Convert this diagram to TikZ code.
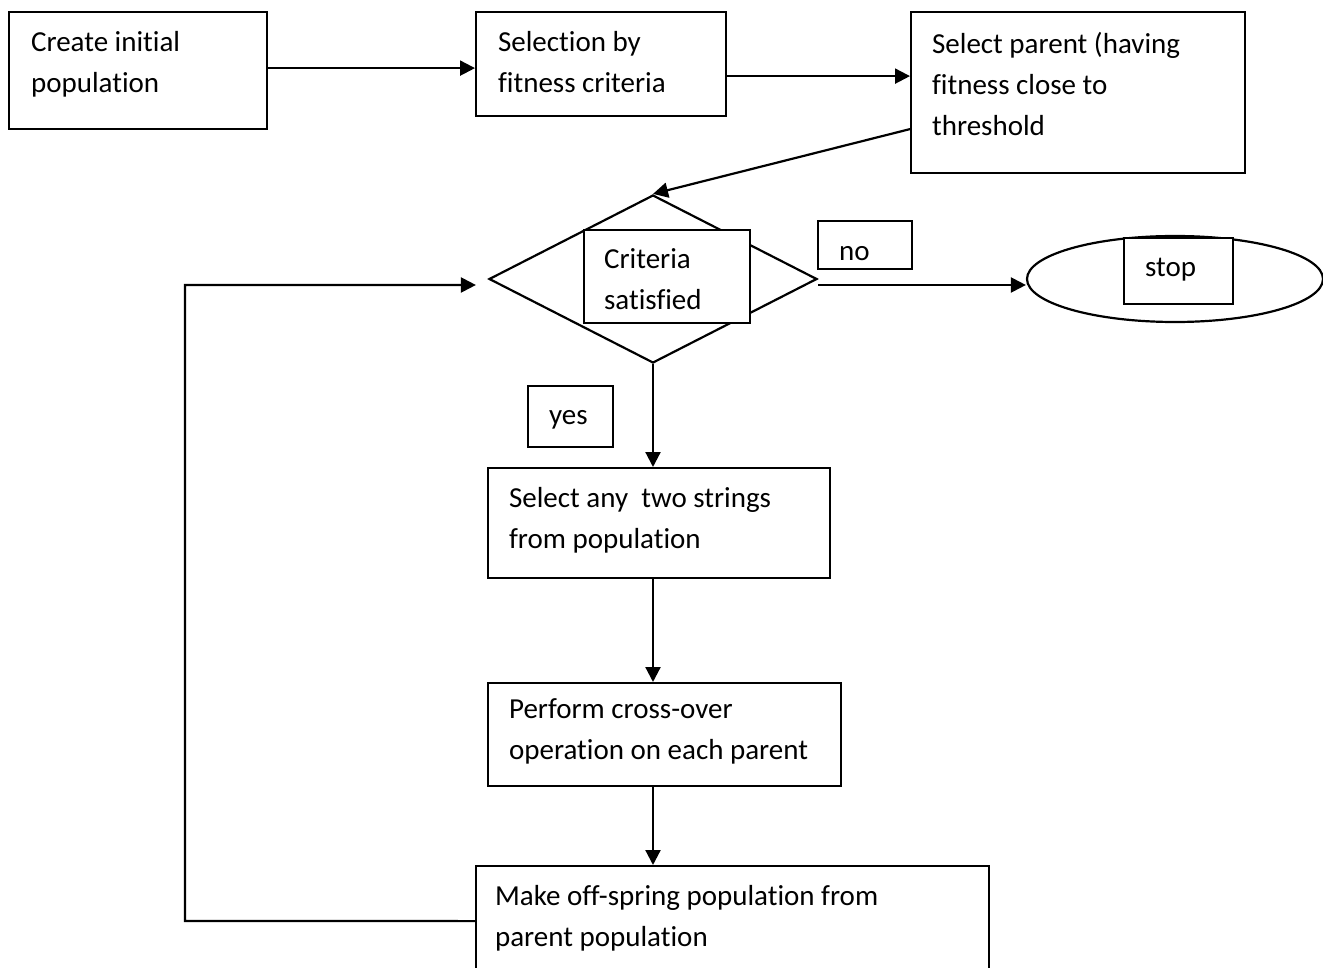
\documentclass[tikz,border=0pt]{standalone}
\usepackage{fontspec}
\setmainfont{Carlito}[Ligatures=NoCommon]
\usetikzlibrary{shapes.geometric,arrows.meta}
\newcommand\mkbox[8]{%
  \node[box, minimum width={#4-#2}, minimum height={#5-#3}] (#1) at (#2,#3) {};
  \node[txt] (#1-t) at (#6,#7-25) {\rule{0pt}{25pt}#8};
}
\begin{document}
\begin{tikzpicture}[x=1pt,y=-1pt,line width=2.2pt,
  box/.style={draw, fill=white, rectangle, inner sep=0pt, anchor=north west},
  txt/.style={anchor=north west, inner sep=0pt, align=left, font=\fontsize{29}{41}\selectfont},
  arr/.style={-{Triangle[length=15pt,width=15pt]}}]
\useasboundingbox (0,0) rectangle (1323,968);
% shapes under label boxes
\node[draw, diamond, minimum width=328pt, minimum height=168pt, inner sep=0pt] (dia) at (653,279) {};
\node[draw, ellipse, minimum width=296pt, minimum height=86pt, inner sep=0pt] (stopell) at (1175,279) {};
% boxes
\mkbox{box1}{8}{11}{266}{128}{30}{50}{Create initial\\population}
\mkbox{box2}{475}{11}{725}{115}{497}{50}{Selection by\\fitness criteria}
\mkbox{box3}{910}{11}{1244}{172}{931}{52}{Select parent (having\\fitness close to\\threshold}
\mkbox{crit}{583}{229}{749}{322}{603}{267}{Criteria\\satisfied}
\mkbox{no}{817}{220}{911}{268}{838}{259}{no}
\mkbox{stop}{1123}{237}{1232}{303}{1144}{275}{stop}
\mkbox{yes}{527}{385}{612}{446}{548}{423}{yes}
\mkbox{box4}{487}{467}{829}{577}{508}{506}{Select any~ two strings\\from population}
\mkbox{box5}{487}{682}{840}{785}{508}{717}{Perform cross-over\\operation on each parent}
\mkbox{box6}{475}{865}{988}{975}{494}{904}{Make off-spring population from\\parent population}
% connectors
\draw[arr] ([yshift=2.5pt]box1.east) -- ([yshift=2.5pt]box1.east -| box2.west);
\draw[arr] ([yshift=-12pt]box2.east) -- ([yshift=-12pt]box2.east -| box3.west);
\draw[arr] ([yshift=-36.5pt]box3.west) -- (dia.north);
\draw[arr] ([yshift=-6pt]dia.east) -- ([yshift=-6pt]dia.east -| stopell.west);
\draw[arr] (dia.south) -- (dia.south |- box4.north);
\draw[arr] (dia.south |- box4.south) -- (dia.south |- box5.north);
\draw[arr] (dia.south |- box5.south) -- (dia.south |- box6.north);
\coordinate (loopA) at (185,921);
\coordinate (loopB) at (185,285);
\draw[arr] (box6.west) -- (loopA) -- (loopB) -- ([xshift=-12pt]dia.west |- loopB);
\end{tikzpicture}
\end{document}
